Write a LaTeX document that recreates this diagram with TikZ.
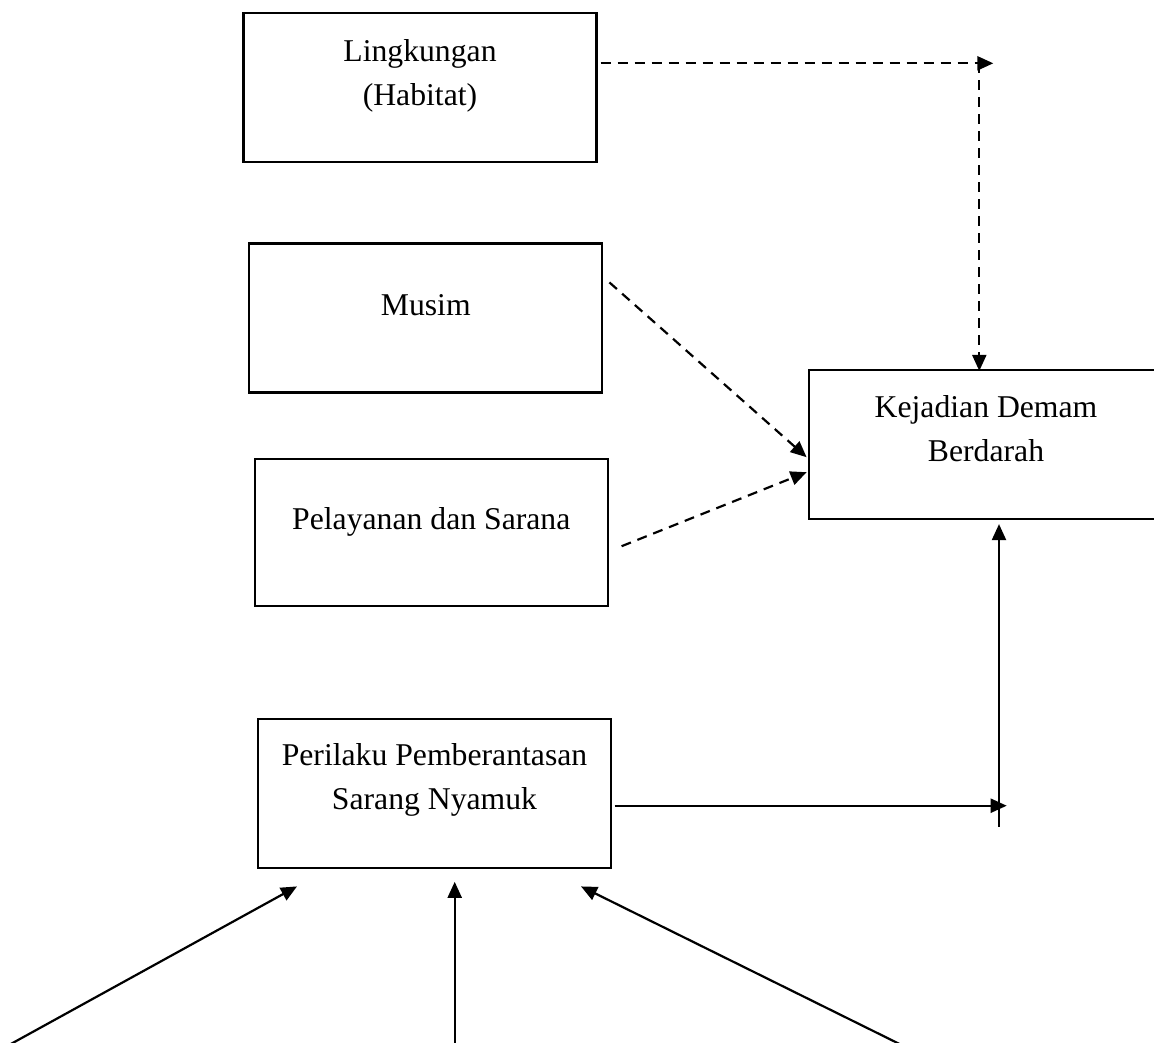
\documentclass[tikz,border=0pt]{standalone}
\usepackage{fontspec}
\setmainfont{Liberation Serif}
\usetikzlibrary{arrows.meta,calc}
\tikzset{
  boxnode/.style={draw, line width=2.2pt, inner sep=0pt, minimum width=353pt, minimum height=149pt},
  txt/.style={inner sep=0pt, align=center, anchor=base, font=\fontsize{31.7}{44}\selectfont},
  conn/.style={line width=2.2pt, -{Triangle[length=16pt,width=14pt]}},
  dconn/.style={conn, dash pattern=on 10pt off 7pt}
}
\begin{document}
\begin{tikzpicture}[x=1pt,y=-1pt]
\useasboundingbox (0,0) rectangle (1154,1042);
% boxes
\node[boxnode] (L) at (420,87.2) {};
\node[boxnode] (M) at (425.8,318) {};
\node[boxnode, minimum height=146.4pt] (P) at (431.3,532.5) {};
\node[boxnode, minimum width=354pt] (K) at (985.9,444.5) {};
\node[boxnode] (R) at (434.5,793.8) {};
% texts (base anchor = baseline of the last line)
\node[txt] (Lt) at (420,105.5) {Lingkungan\\(Habitat)};
\node[txt] (Mt) at (425.8,315) {Musim};
\node[txt] (Pt) at (431.3,529) {Pelayanan dan Sarana};
\node[txt] (Kt) at (986,461) {Kejadian Demam\\Berdarah};
\node[txt] (Rt) at (434.5,809.5) {Perilaku Pemberantasan\\Sarang Nyamuk};
% coordinates
\coordinate (hEnd) at (993.3,63.3);
\coordinate (vTop) at (979.3,63.3);
\coordinate (hv) at (1006.7,805.7);
\coordinate (vb) at (999,826.7);
\coordinate (b1) at (5,1047.2);
\coordinate (b2) at (454.7,1050);
\coordinate (b3) at (905,1046.7);
% dashed connectors
\draw[dconn] ($(L.east |- hEnd)+(3,0)$) -- (hEnd);
\draw[dconn] (vTop) -- ($(K.north -| vTop)+(0,2)$);
\draw[dconn] ($(M.north east)+(6,40)$) -- ($(K.north west)+(-1.2,88.3)$);
\draw[dconn] ($(P.north east)+(12.7,88)$) -- ($(K.north west)+(-1.2,103.3)$);
% solid connectors
\draw[conn] ($(R.east)+(2.6,11.9)$) -- (hv);
\draw[conn] (vb) -- ($(K.south -| vb)+(0,4)$);
\draw[conn] (b1) -- ($(R.south)+(-137.5,17)$);
\draw[conn] (b2) -- ($(R.south)+(20.2,12.4)$);
\draw[conn] (b3) -- ($(R.south)+(146.5,17)$);
\end{tikzpicture}
\end{document}
